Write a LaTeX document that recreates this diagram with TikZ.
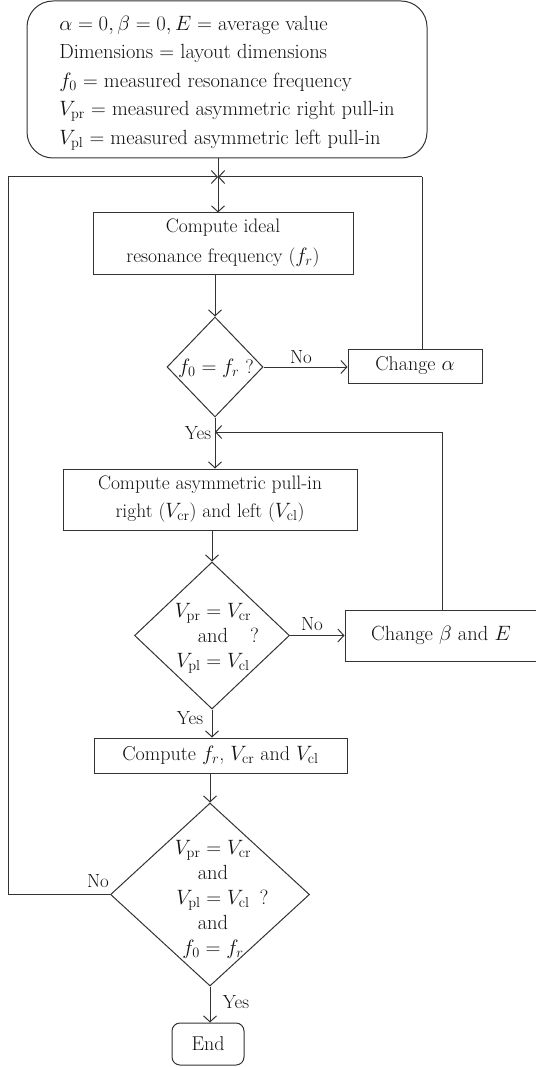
\documentclass[tikz,border=0pt]{standalone}
\usetikzlibrary{arrows.meta,shapes.geometric}
\definecolor{ln}{HTML}{333333}
\definecolor{tx}{HTML}{111111}
\begin{document}
\begin{tikzpicture}[x=1pt,y=-1pt,
  every node/.style={text=tx,font=\fontsize{19}{28}\selectfont},
  box/.style={draw=ln,line width=1pt,rectangle,inner sep=0pt,align=center},
  dia/.style={draw=ln,line width=1pt,diamond,inner sep=0pt,aspect=1},
  lbl/.style={inner sep=0pt},
  con/.style={draw=ln,line width=1pt},
  arr/.style={con,-{Straight Barb[length=6pt,width=13pt,line width=1pt]}}
]
\useasboundingbox (0,0) rectangle (535,1067);

% top box
\node[box,rounded corners=26pt,minimum width=400pt,minimum height=157pt,
      align=left,font=\fontsize{20.5}{28.5}\selectfont] (start) at (227,79.5)
  {\rule{0pt}{21pt}$\alpha = 0, \beta = 0, E =$ average value\\
   Dimensions = layout dimensions\\
   $f_0$ = measured resonance frequency\\
   $V_{\mathrm{pr}}$ = measured asymmetric right pull-in\\
   $V_{\mathrm{pl}}$ = measured asymmetric left pull-in};

\coordinate (J) at (218,177);
\coordinate (rA) at (422,177);
\coordinate (K) at (215,432);
\coordinate (rB) at (442,432);
\coordinate (lL) at (8,177);

% process boxes
\node[box,minimum width=260pt,minimum height=61pt,font=\fontsize{19.5}{30}\selectfont] (c1) at (223,243.5)
  {Compute ideal\\ resonance frequency ($f_r$)};
\node[dia,minimum width=96pt,minimum height=100pt] (d1) at (215,367) {};
\node[lbl,font=\fontsize{19.5}{25}\selectfont] (d1t) at (216,368) {$f_0 = f_r$ ?};
\node[box,minimum width=134pt,minimum height=34pt,font=\fontsize{20}{25}\selectfont] (ca) at (415,366) {Change $\alpha$};

\node[box,minimum width=294pt,minimum height=61pt,font=\fontsize{19.5}{28}\selectfont] (c2) at (210,499.5)
  {Compute asymmetric pull-in\\ right ($V_{\mathrm{cr}}$) and left ($V_{\mathrm{cl}}$)};
\node[dia,minimum width=155pt,minimum height=147pt] (d2) at (212,635.5) {};
\node[lbl,align=center,font=\fontsize{20.5}{25}\selectfont] (d2t) at (213,638)
  {$V_{\mathrm{pr}} = V_{\mathrm{cr}}$\\ and\rlap{\hspace{22pt}?}\\ $V_{\mathrm{pl}} = V_{\mathrm{cl}}$};
\node[box,minimum width=192pt,minimum height=51pt,font=\fontsize{20.5}{25}\selectfont] (cb) at (441,635.5) {Change $\beta$ and $E$};

\node[box,minimum width=253pt,minimum height=35pt,font=\fontsize{20}{25}\selectfont] (c3) at (220.5,755.5)
  {Compute $f_r$, $V_{\mathrm{cr}}$ and $V_{\mathrm{cl}}$};
\node[dia,minimum width=199pt,minimum height=183pt] (d3) at (210,894.5) {};
\node[lbl,align=center,font=\fontsize{20.5}{25}\selectfont] (d3t) at (213,899)
  {$V_{\mathrm{pr}} = V_{\mathrm{cr}}$\\ and\\ $V_{\mathrm{pl}} = V_{\mathrm{cl}}$\rlap{\hspace{10pt}?}\\ and\\ $f_0 = f_r$};
\node[box,rounded corners=8pt,minimum width=72pt,minimum height=42pt,font=\fontsize{20}{25}\selectfont] (end) at (208,1044) {End};

% labels
\node[lbl] (no1) at (301,357) {No};
\node[lbl] (yes1) at (198,433) {Yes};
\node[lbl] (no2) at (312,624) {No};
\node[lbl] (yes2) at (190,718) {Yes};
\node[lbl] (no3) at (98,881) {No};
\node[lbl] (yes3) at (236,1002) {Yes};

% connectors
\draw[con] (start.south -| J) -- (J);
\draw[arr] (J) -- (c1.north -| J);
\draw[arr] (c1.south -| d1.north) -- (d1.north);
\draw[arr] (d1.east) -- (ca.west |- d1.east);
\draw[con] (ca.north -| rA) -- (rA);
\draw[arr] (rA) -- (J);
\draw[arr] (d1.south) -- (c2.north -| d1.south);
\draw[con] (cb.north -| rB) -- (rB);
\draw[arr] (rB) -- (K);
\draw[arr] (c2.south -| d2.north) -- (d2.north);
\draw[arr] (d2.east) -- (cb.west |- d2.east);
\draw[arr] (d2.south) -- (c3.north -| d2.south);
\draw[arr] (c3.south -| d3.north) -- (d3.north);
\draw[con] (d3.west) -| (lL);
\draw[arr] (lL) -- (J);
\draw[arr] (d3.south) -- (end.north -| d3.south);
\end{tikzpicture}
\end{document}
